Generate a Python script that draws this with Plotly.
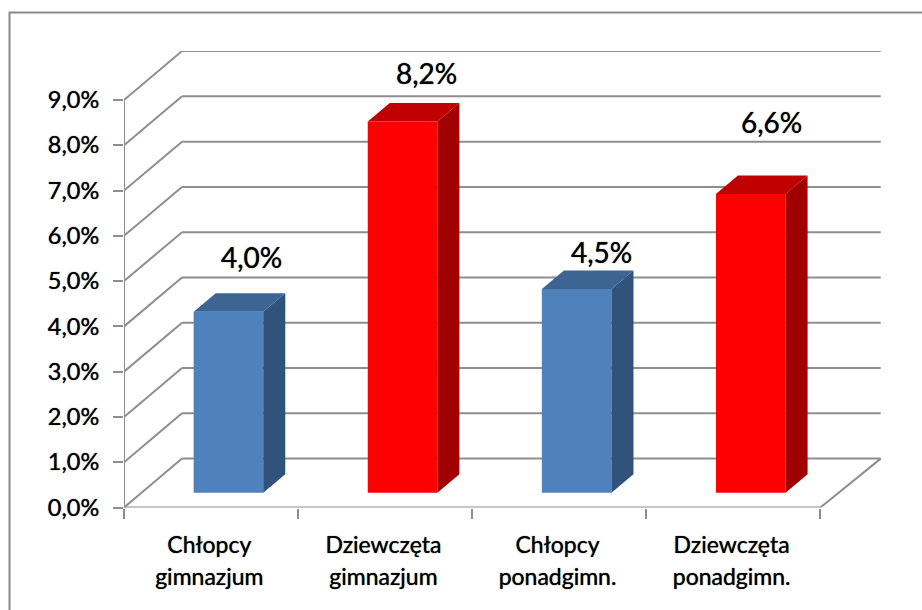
import plotly.graph_objects as go

# ---- data ----
categories_top = ["Chłopcy", "Dziewczęta", "Chłopcy", "Dziewczęta"]
categories_bottom = ["gimnazjum", "gimnazjum", "ponadgimn.", "ponadgimn."]
values = [4.0, 8.2, 4.5, 6.6]
y_ticks = [0, 1, 2, 3, 4, 5, 6, 7, 8, 9]
y_tick_labels = ["0,0%", "1,0%", "2,0%", "3,0%", "4,0%", "5,0%", "6,0%", "7,0%", "8,0%", "9,0%"]

# ---- styles / geometry ----
W, H = 922, 610
X0_PX, X_END_PX, CAT_PX = 124.0, 883.0, 174.1
Y0_PX, Y_END_PX, UNIT_PX = 507.5, 51.0, 45.28
DEPTH_X = 58.0 / CAT_PX          # full floor depth in x-units
DEPTH_Y = 48.9 / UNIT_PX         # full floor depth in y-units
BACK_EXTRA = 2.3 / CAT_PX        # back wall runs slightly past the floor's depth offset
BAR_FRONT, BAR_BACK = 0.30, 0.68  # bar position inside the depth
BAR_W = 69.6 / CAT_PX
front_cols = ["#4f81bd", "#ff0000", "#4f81bd", "#ff0000"]
top_cols = ["#3d6594", "#c00000", "#3d6594", "#c00000"]
side_cols = ["#31527a", "#a00000", "#31527a", "#a00000"]
GRID = "#8e8e8e"
label_shift_x = [23, 24, 25, 21]
label_shift_y = [55, 49, 37, 72]
FONT = "Lato, Carlito, sans-serif"
SOFT = "0 0 1px rgba(0,0,0,0.85)"

n = len(values)
fx, fy = BAR_FRONT * DEPTH_X, BAR_FRONT * DEPTH_Y
bx, by = BAR_BACK * DEPTH_X, BAR_BACK * DEPTH_Y
centers = [i + 0.5 + fx for i in range(n)]

fig = go.Figure()

# front faces
fig.add_trace(go.Bar(x=centers, y=values, base=[fy] * n, width=BAR_W,
                     marker=dict(color=front_cols, line=dict(width=0)),
                     hoverinfo="skip", showlegend=False))

# sides and tops
dd_x, dd_y = bx - fx, by - fy
for c, v, ct, cs in zip(centers, values, top_cols, side_cols):
    l, r = c - BAR_W / 2, c + BAR_W / 2
    b, t = fy, fy + v
    fig.add_trace(go.Scatter(x=[r, r + dd_x, r + dd_x, r, r], y=[b, b + dd_y, t + dd_y, t, b],
                             mode="lines", fill="toself", fillcolor=cs, line=dict(width=0),
                             hoverinfo="skip", showlegend=False))
    fig.add_trace(go.Scatter(x=[l, l + dd_x, r + dd_x, r, l], y=[t, t + dd_y, t + dd_y, t, t],
                             mode="lines", fill="toself", fillcolor=ct, line=dict(width=0),
                             hoverinfo="skip", showlegend=False))

# chart walls, gridlines and floor
shapes = []
line = dict(color=GRID, width=2)
back_end = n + DEPTH_X + BACK_EXTRA
for v in y_ticks:
    shapes.append(dict(type="line", xref="x", yref="y", x0=0, y0=v, x1=DEPTH_X, y1=v + DEPTH_Y,
                       line=line, layer="below"))
    shapes.append(dict(type="line", xref="x", yref="y", x0=DEPTH_X, y0=v + DEPTH_Y,
                       x1=back_end, y1=v + DEPTH_Y, line=line, layer="below"))
shapes.append(dict(type="line", xref="x", yref="y", x0=0, y0=0, x1=n, y1=0, line=line, layer="below"))
shapes.append(dict(type="line", xref="x", yref="y", x0=n, y0=0, x1=back_end, y1=DEPTH_Y, line=line, layer="below"))
shapes.append(dict(type="line", xref="x", yref="y", x0=0, y0=0, x1=0, y1=y_ticks[-1], line=line, layer="below"))
# outer frame
shapes.append(dict(type="rect", xref="paper", yref="paper", x0=9.5 / W, x1=1.01, y0=-0.01, y1=1 - 12.5 / H,
                   line=dict(color="#8a8a8a", width=2), layer="below"))

# data labels
annotations = [
    dict(x=c, y=fy + v, xref="x", yref="y", xshift=sx, yshift=sy, showarrow=False,
         text=f"{v:.1f}%".replace(".", ","),
         font=dict(family=FONT, size=28, color="#000000", shadow=SOFT),
         xanchor="center", yanchor="middle")
    for c, v, sx, sy in zip(centers, values, label_shift_x, label_shift_y)
]

tick_text = [f'<span style="font-size:23px">{a}</span><br><span style="font-size:23px">{b}</span>'
             for a, b in zip(categories_top, categories_bottom)]

fig.update_layout(
    width=W, height=H, autosize=False,
    margin=dict(l=0, r=0, t=0, b=0),
    paper_bgcolor="#ffffff", plot_bgcolor="#ffffff",
    showlegend=False, barmode="overlay",
    shapes=shapes, annotations=annotations,
    xaxis=dict(
        automargin=False,
        domain=[X0_PX / W, X_END_PX / W],
        range=[0, (X_END_PX - X0_PX) / CAT_PX],
        showgrid=False, zeroline=False, showline=False,
        tickmode="array", tickvals=[i + 0.49 for i in range(n)], ticktext=tick_text,
        ticks="", tickangle=0,
        tickfont=dict(family=FONT, size=25, color="#000000", shadow=SOFT),
        ticklabelstandoff=19,
        minor=dict(tickmode="array", tickvals=list(range(n + 1)), ticks="outside",
                   ticklen=10, tickwidth=2, tickcolor=GRID, showgrid=False),
    ),
    yaxis=dict(
        automargin=False,
        domain=[1 - Y0_PX / H, 1 - Y_END_PX / H],
        range=[0, (Y0_PX - Y_END_PX) / UNIT_PX],
        showgrid=False, zeroline=False, showline=False,
        tickmode="array", tickvals=y_ticks, ticktext=y_tick_labels,
        ticks="outside", ticklen=10, tickwidth=2, tickcolor=GRID,
        tickfont=dict(family=FONT, size=23.5, color="#000000", shadow=SOFT),
        ticklabelstandoff=9,
    ),
)

fig.write_html("out.html", post_script="document.body.style.margin='0';", config={"displayModeBar": False})
